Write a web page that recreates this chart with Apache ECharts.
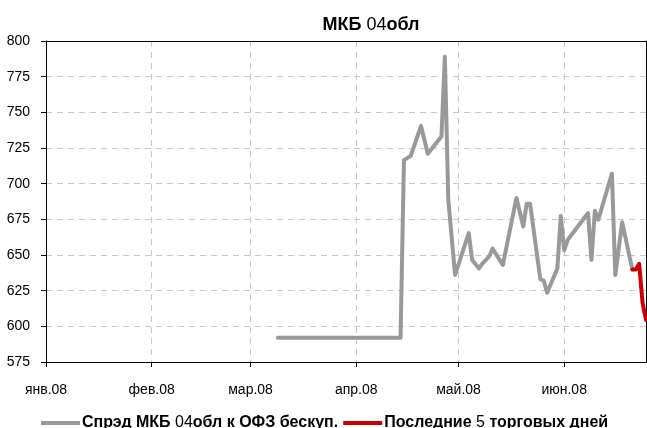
<!DOCTYPE html>
<html>
<head>
<meta charset="utf-8">
<script src="https://cdn.jsdelivr.net/npm/echarts@6/dist/echarts.min.js"></script>
<style>
html,body{margin:0;padding:0;background:#fff;}
#chart{width:647px;height:428px;}
</style>
</head>
<body>
<div id="chart"></div>
<script>
const title = 'МКБ 04обл';
const seriesNames = ['Спрэд МКБ 04обл к ОФЗ бескуп.', 'Последние 5 торговых дней'];
const monthNames = ['янв','фев','мар','апр','май','июн','июл','авг','сен','окт','ноя','дек'];
const yTicks = [575, 600, 625, 650, 675, 700, 725, 750, 775, 800];

const spreadDates = ['2008-03-09','2008-04-14','2008-04-15','2008-04-17','2008-04-20','2008-04-22',
  '2008-04-26','2008-04-27','2008-04-28','2008-04-30','2008-05-04','2008-05-05','2008-05-07',
  '2008-05-08','2008-05-10','2008-05-11','2008-05-14','2008-05-18','2008-05-20','2008-05-21',
  '2008-05-22','2008-05-25','2008-05-26','2008-05-27','2008-05-30','2008-05-31','2008-06-01',
  '2008-06-02','2008-06-08','2008-06-09','2008-06-10','2008-06-11','2008-06-15','2008-06-16',
  '2008-06-18','2008-06-21'];
const spreadValues = [592, 592, 716.5, 719.5, 740.5, 721,
  733, 789, 689, 636, 665.4, 646.6, 640.6,
  644, 649, 654.5, 643, 690, 670, 686,
  686, 633, 632, 623.5, 640.5, 677.3, 653.3,
  660.5, 679.4, 646.6, 681, 674.7, 707, 636,
  673, 639.8];

const lastDates = ['2008-06-21','2008-06-22','2008-06-23','2008-06-24','2008-06-25'];
const lastValues = [639.8, 639.8, 643.8, 616.2, 604.5];

const FONT = '"Liberation Sans Narrow", "Arial Narrow", "Liberation Sans", Arial, sans-serif';
const X_MIN = '2008-01-01', X_MAX = '2008-06-25';

function richDigits(s) {
  return '{b|' + s.replace(/(\d+)/g, '}{n|$1}{b|') + '}';
}

const chart = echarts.init(document.getElementById('chart'), null, {renderer: 'canvas'});
chart.setOption({
  animation: false,
  backgroundColor: '#ffffff',
  title: {
    text: richDigits(title),
    left: 366, top: 11, textAlign: 'center',
    textStyle: {
      fontFamily: FONT,
      rich: {
        b: {fontFamily: FONT, fontWeight: 'bold', fontSize: 18, color: '#000'},
        n: {fontFamily: FONT, fontWeight: 'normal', fontSize: 18, color: '#000'}
      }
    }
  },
  legend: {
    left: 36, top: 410,
    icon: 'rect', itemWidth: 39, itemHeight: 4, itemGap: 5,
    data: seriesNames,
    formatter: function (name) { return richDigits(name); },
    textStyle: {
      fontFamily: FONT, padding: [0, 0, 0, -3],
      rich: {
        b: {fontFamily: FONT, fontWeight: 'bold', fontSize: 16, color: '#000'},
        n: {fontFamily: FONT, fontWeight: 'normal', fontSize: 16, color: '#000'}
      }
    }
  },
  grid: {
    left: 46, right: 1, top: 41, bottom: 66, show: false
  },
  xAxis: [{
    type: 'time',
    min: X_MIN, max: X_MAX,
    minInterval: 28 * 86400000, maxInterval: 31 * 86400000,
    axisLine: {lineStyle: {color: '#000', width: 1}},
    axisTick: {show: true, length: 5, lineStyle: {color: '#000'}},
    minorTick: {show: false},
    splitLine: {show: true, lineStyle: {color: '#c8c8c8', type: [6, 5], width: 1}},
    axisLabel: {
      fontFamily: FONT, fontSize: 14, color: '#000', margin: 21,
      showMinLabel: true, showMaxLabel: false, hideOverlap: false,
      formatter: function (v) {
        const d = new Date(v);
        return monthNames[d.getMonth()] + '.' + String(d.getFullYear()).slice(2);
      }
    }
  }, {
    type: 'time', position: 'top',
    min: X_MIN, max: X_MAX,
    axisLine: {show: true, lineStyle: {color: '#000', width: 1}},
    axisTick: {show: false}, axisLabel: {show: false}, splitLine: {show: false}
  }],
  yAxis: [{
    type: 'value',
    min: yTicks[0], max: yTicks[yTicks.length - 1], interval: 25,
    axisLine: {show: true, lineStyle: {color: '#000', width: 1}},
    axisTick: {show: true, length: 5, lineStyle: {color: '#000'}},
    splitLine: {show: true, lineStyle: {color: '#c8c8c8', type: [6, 5], width: 1}},
    axisLabel: {fontFamily: FONT, fontSize: 14, color: '#000', margin: 16}
  }, {
    type: 'value', position: 'right',
    min: yTicks[0], max: yTicks[yTicks.length - 1], interval: 25,
    axisLine: {show: true, lineStyle: {color: '#000', width: 1}},
    axisTick: {show: false}, axisLabel: {show: false}, splitLine: {show: false}
  }],
  series: [
    {
      name: seriesNames[0], type: 'line', symbol: 'none', z: 3,
      data: spreadDates.map((d, i) => [d, spreadValues[i]]),
      lineStyle: {color: '#999999', width: 4, join: 'round', cap: 'round'},
      itemStyle: {color: '#999999'}
    },
    {
      name: seriesNames[1], type: 'line', symbol: 'none', z: 3,
      data: lastDates.map((d, i) => [d, lastValues[i]]),
      lineStyle: {color: '#cc0000', width: 4, join: 'round', cap: 'round'},
      itemStyle: {color: '#cc0000'}
    }
  ]
});
</script>
</body>
</html>
